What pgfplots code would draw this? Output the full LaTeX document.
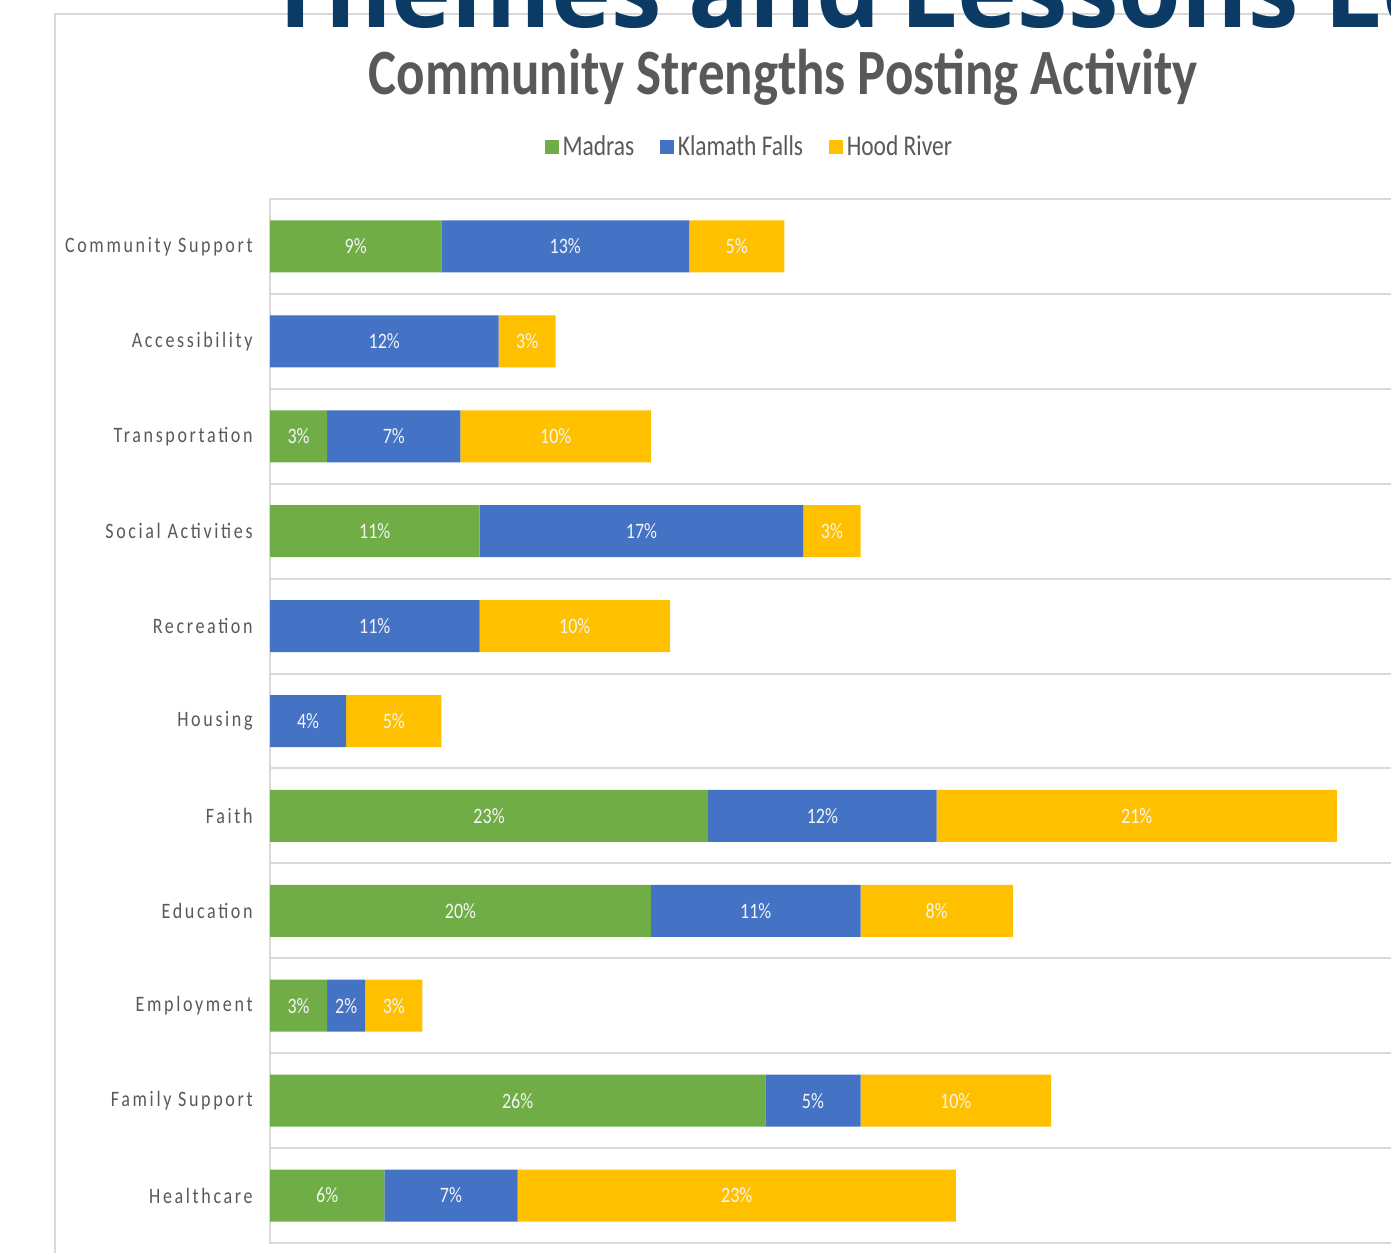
\documentclass[border=0pt]{standalone}
\usepackage{fontspec}
\setmainfont{Carlito}[FakeStretch=0.82]
\newfontfamily\tickfont{Carlito}[FakeStretch=0.82,LetterSpace=12]
\newfontfamily\bigfontw{Open Sans}[FakeStretch=0.95]
\usepackage{pgfplots}
\pgfplotsset{compat=1.18}
\usepackage{pgfplotstable}
\definecolor{cgreen}{HTML}{70AD47}
\definecolor{cblue}{HTML}{4472C4}
\definecolor{cyellow}{HTML}{FFC000}
\definecolor{ctext}{HTML}{595959}
\definecolor{cgrid}{HTML}{D9D9D9}
\definecolor{navy}{HTML}{0B3B64}

\pgfplotstableread{
idx madras klamath hood
10 9 13 5
9 0 12 3
8 3 7 10
7 11 17 3
6 0 11 10
5 0 4 5
4 23 12 21
3 20 11 8
2 3 2 3
1 26 5 10
0 6 7 23
}\datatable

\begin{document}
\begin{tikzpicture}
\useasboundingbox (0pt,0pt) rectangle (695.5pt,-626pt);
\clip (0pt,0pt) rectangle (695.5pt,-626pt);
\fill[white] (0pt,0pt) rectangle (695.5pt,-626pt);
\draw[cgrid, line width=1pt] (27.5pt,-630pt) -- (27.5pt,-7pt) -- (700pt,-7pt);
\node[anchor=base west, inner sep=0pt, text=navy, font=\bigfontw\bfseries\fontsize{53.4}{53.4}\selectfont] at (133pt,-14pt) {Themes and};
\node[anchor=base west, inner sep=0pt, text=navy, font=\bigfontw\bfseries\fontsize{53.4}{53.4}\selectfont] at (450pt,-14pt) {Lessons Learned};
\node[anchor=base, inner sep=0pt, text=ctext, font=\bfseries\fontsize{32.3}{32.3}\selectfont] at (391.5pt,-47.5pt) {Community Strengths Posting Activity};
\begin{axis}[
  at={(135pt,-99.5pt)}, anchor=north west,
  scale only axis, width=565pt, height=522pt,
  xbar stacked, bar width=26pt,
  xmin=0, xmax=59.32, ymin=-0.5, ymax=10.5,
  xtick=\empty,
  ytick={0,...,10},
  yticklabels={Healthcare,Family Support,Employment,Education,Faith,Housing,Recreation,Social Activities,Transportation,Accessibility,Community Support},
  minor ytick={-0.5,0.5,...,10.5},
  yminorgrids, minor grid style={cgrid, line width=1pt},
  major tick length=0pt, minor tick length=0pt,
  axis line style={cgrid, line width=1pt},
  yticklabel style={font=\tickfont\fontsize{11}{11}\selectfont, text=ctext, inner sep=0pt, xshift=-8.5pt},
  legend style={at={(0.4252,1.0498)}, anchor=center, draw=none, fill=none, legend columns=-1,
    font=\fontsize{14.3}{14.3}\selectfont, text=ctext,
    /tikz/every even column/.append style={column sep=11pt}},
  legend image code/.code={\fill[#1] (0pt,-3.4pt) rectangle (6.8pt,3.4pt);},
  point meta=explicit,
  /pgf/number format/assume math mode=true,
  nodes near coords={\ifdim\rawx pt>0.5pt \pgfmathprintnumber{\rawx}\%\fi},
  every node near coord/.append style={anchor=center, text=white!96!black, font=\fontsize{11}{11}\selectfont},
]
\addplot[fill=cgreen, draw=none,
  visualization depends on={\thisrow{madras} \as \rawx}]
  table[x=madras, y=idx, meta=madras] {\datatable};
\addplot[fill=cblue, draw=none,
  visualization depends on={\thisrow{klamath} \as \rawx}]
  table[x=klamath, y=idx, meta=klamath] {\datatable};
\addplot[fill=cyellow, draw=none,
  visualization depends on={\thisrow{hood} \as \rawx}]
  table[x=hood, y=idx, meta=hood] {\datatable};
\legend{Madras,Klamath Falls,Hood River}
\end{axis}
\end{tikzpicture}
\end{document}
